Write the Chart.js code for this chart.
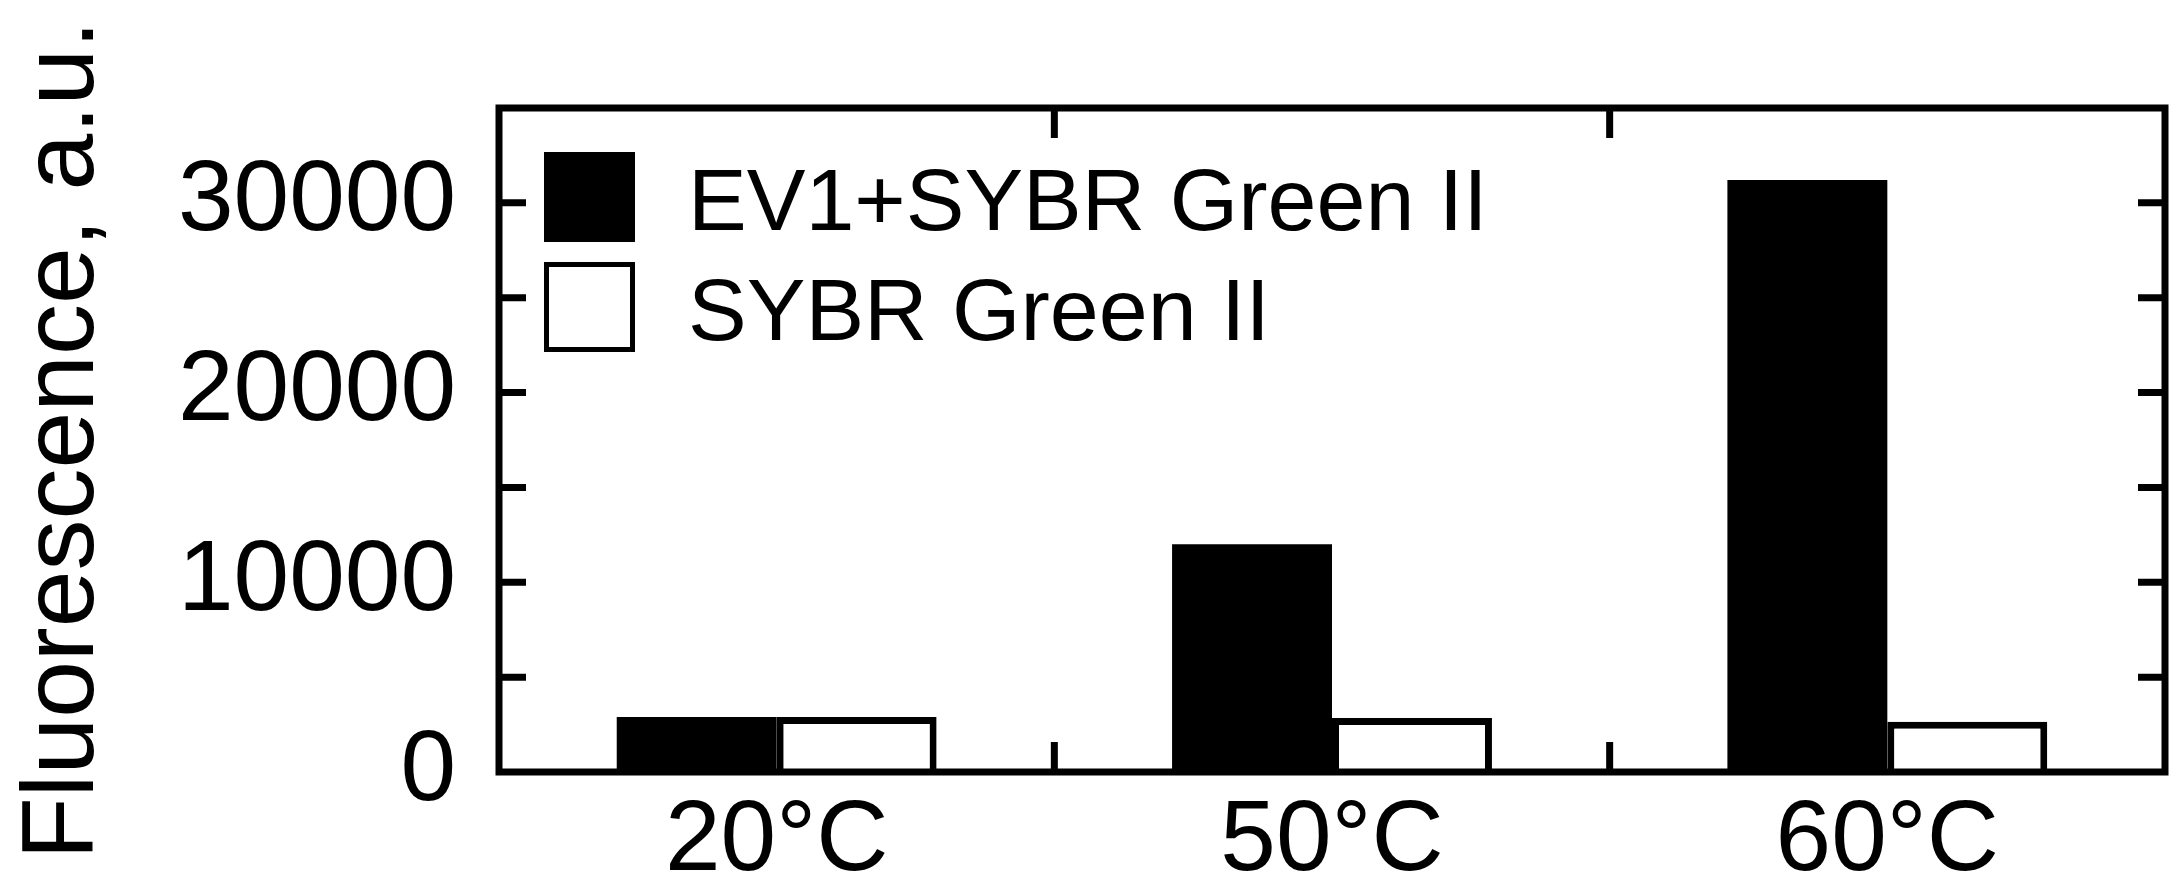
<!DOCTYPE html>
<html>
<head>
<meta charset="utf-8">
<script src="https://cdn.jsdelivr.net/npm/chart.js@4.4.1/dist/chart.umd.min.js"></script>
<style>
  html, body { margin: 0; padding: 0; background: #fff; }
  #wrap { width: 2174px; height: 886px; position: relative; }
</style>
</head>
<body>
<div id="wrap"><canvas id="c" width="2174" height="886"></canvas></div>
<script>
const categories = ['20°C', '50°C', '60°C'];
const seriesNames = ['EV1+SYBR Green II', 'SYBR Green II'];
const ev1Values = [2900, 12000, 31200];
const sybrValues = [2900, 2850, 2650];
const yTickValues = [0, 10000, 20000, 30000];
const yMinorStep = 5000;
const yAxisTitle = 'Fluorescence, a.u.';

const FONT = "'Liberation Sans', Arial, Helvetica, sans-serif";

const framePlugin = {
  id: 'frame',
  afterDraw(chart) {
    const ctx = chart.ctx;
    const a = chart.chartArea;
    const xs = chart.scales.x, ys = chart.scales.y;
    ctx.save();
    ctx.strokeStyle = '#000';
    ctx.lineWidth = 7;
    ctx.lineCap = 'butt';
    const tl = 27;
    for (let v = ys.min + yMinorStep; v < ys.max; v += yMinorStep) {
      const y = ys.getPixelForValue(v);
      ctx.beginPath();
      ctx.moveTo(a.left, y); ctx.lineTo(a.left + tl, y);
      ctx.moveTo(a.right, y); ctx.lineTo(a.right - tl, y);
      ctx.stroke();
    }
    const tlx = 30;
    for (let i = 0; i < categories.length - 1; i++) {
      const x = (xs.getPixelForValue(i) + xs.getPixelForValue(i + 1)) / 2;
      ctx.beginPath();
      ctx.moveTo(x, a.bottom); ctx.lineTo(x, a.bottom - tlx);
      ctx.moveTo(x, a.top); ctx.lineTo(x, a.top + tlx);
      ctx.stroke();
    }
    ctx.strokeRect(a.left, a.top, a.right - a.left, a.bottom - a.top);

    const boxX = a.left + 45, boxW = 91, boxH = 90;
    const rows = [a.top + 44, a.top + 154];
    chart.data.datasets.forEach((ds, i) => {
      const y0 = rows[i];
      ctx.fillStyle = ds.backgroundColor;
      ctx.fillRect(boxX, y0, boxW, boxH);
      ctx.lineWidth = 5;
      ctx.strokeStyle = '#000';
      ctx.strokeRect(boxX + 2.5, y0 + 2.5, boxW - 5, boxH - 5);
      ctx.fillStyle = '#000';
      ctx.font = '88px ' + FONT;
      ctx.textAlign = 'left';
      ctx.textBaseline = 'alphabetic';
      ctx.fillText(ds.label, 688, y0 + 78);
    });
    ctx.restore();
  }
};

new Chart(document.getElementById('c'), {
  type: 'bar',
  data: {
    labels: categories,
    datasets: [
      { label: seriesNames[0], data: ev1Values, backgroundColor: '#000', borderColor: '#000', borderWidth: 0 },
      { label: seriesNames[1], data: sybrValues, backgroundColor: '#fff', borderColor: '#000', borderWidth: 7 }
    ]
  },
  options: {
    responsive: false,
    animation: false,
    devicePixelRatio: 1,
    layout: { padding: { left: 0, top: 108, right: 9, bottom: 0 } },
    datasets: { bar: { categoryPercentage: 0.576, barPercentage: 1.0 } },
    plugins: { legend: { display: false }, tooltip: { enabled: false } },
    scales: {
      x: {
        grid: { display: false },
        border: { display: false },
        ticks: { color: '#000', font: { family: FONT, size: 100 }, padding: 2, maxRotation: 0 },
        afterFit(s) { s.height = 114; }
      },
      y: {
        min: 0, max: 35000,
        grid: { display: false },
        border: { display: false },
        afterBuildTicks(s) { s.ticks = yTickValues.map(v => ({ value: v })); },
        ticks: { color: '#000', font: { family: FONT, size: 100 }, padding: 35,
                 callback: v => String(v) },
        title: { display: true, text: yAxisTitle, color: '#000',
                 font: { family: FONT, size: 102 }, padding: { top: 4, bottom: 0 } },
        afterFit(s) { s.width = 499; }
      }
    }
  },
  plugins: [framePlugin]
});
</script>
</body>
</html>
